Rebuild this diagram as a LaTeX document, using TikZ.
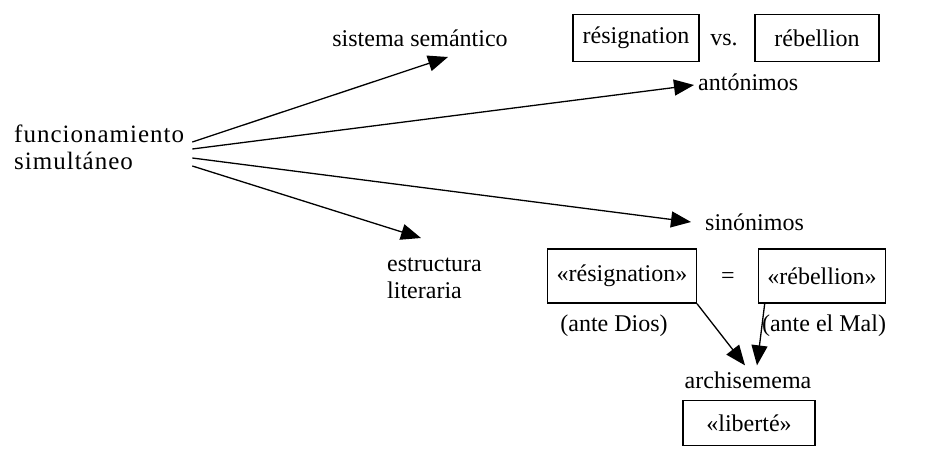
\documentclass[tikz,border=0pt]{standalone}
\usepackage{fontspec}
\setmainfont{Liberation Serif}
\usetikzlibrary{arrows.meta,calc}
\tikzstyle{lbl} = [anchor=center, inner sep=0pt, font={\fontsize{24}{27}\selectfont}]
\tikzstyle{wordbox} = [lbl, draw, line width=1.3pt, inner xsep=9pt]
\tikzstyle{link} = [line width=1.3pt, -{Triangle[length=20pt,width=16pt]}]

\begin{document}
\begin{tikzpicture}[x=1pt,y=-1pt]
  \useasboundingbox (0,0) rectangle (945,455);

  \node[lbl, anchor=west, align=left, font={\fontsize{25}{27}\selectfont\addfontfeature{LetterSpace=4}}] (func) at (14,147) {funcionamiento\\simultáneo};

  % antonyms, top row
  \node[lbl] (sist) at (420,38) {sistema semántico};
  \node[wordbox, minimum width=126pt, minimum height=47pt] (res) at (636,38) {résignation};
  \node[lbl] (vs) at (724,40) {vs.};
  \node[wordbox, minimum width=124pt, minimum height=47pt] (reb) at (817,38) {rébellion};
  \node[lbl, anchor=west] (anto) at (698,82) {antónimos};

  % synonyms
  \node[lbl, anchor=west] (sino) at (705,222) {sinónimos};
  \node[lbl, anchor=west, align=left] (estr) at (387,278) {estructura\\literaria};
  \node[wordbox, minimum height=54pt] (qres) at (622,276) {«résignation»};
  \node[lbl] (eq) at (728,278) {=};
  \node[wordbox, minimum height=54pt] (qreb) at (822,276) {«rébellion»};
  \node[lbl] (dios) at (614,326) {(ante Dios)};
  \node[lbl] (mal) at (824,326) {(ante el Mal)};
  \node[lbl] (arch) at (748,380) {archisemema};
  \node[wordbox, minimum width=132pt, minimum height=45pt] (lib) at (749,423) {«liberté»};

  \coordinate (t1) at (448,57);
  \coordinate (t4) at (421,238);

  \draw[link] ($(func.east)+(8,-5)$) -- (t1);
  \draw[link] ($(func.east)+(8,2)$) -- ($(anto.west)+(-4,3)$);
  \draw[link] ($(func.east)+(8,11)$) -- ($(sino.west)+(-14,0)$);
  \draw[link] ($(func.east)+(8,19)$) -- (t4);

  \draw[link] (qres.south east) -- ($(arch.north)+(-3,-6)$);
  \draw[link] ($(qreb.south west)+(7,0)$) -- ($(arch.north)+(9,-6)$);
\end{tikzpicture}
\end{document}
